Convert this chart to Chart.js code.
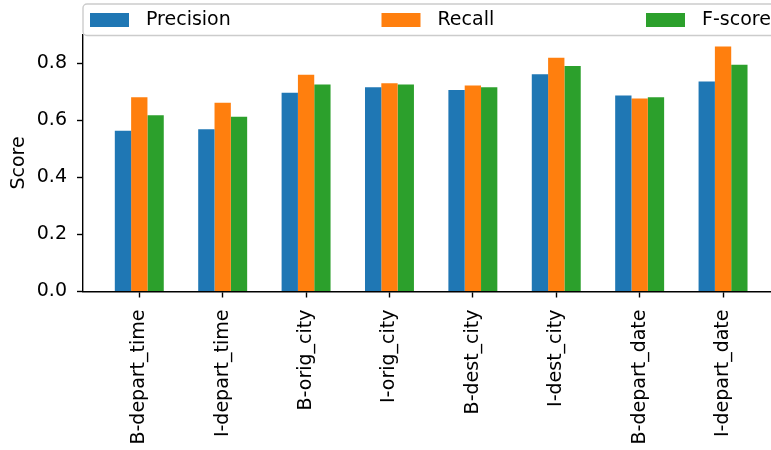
<!DOCTYPE html>
<html>
<head>
<meta charset="utf-8">
<script src="https://cdn.jsdelivr.net/npm/chart.js@4/dist/chart.umd.min.js"></script>
<style>
  html, body { margin: 0; padding: 0; background: #fff; overflow: hidden; }
  canvas { display: block; }
</style>
</head>
<body>
<canvas id="c" width="771" height="450"></canvas>
<script>
// Per-tag evaluation scores
const categories = ['B-depart_time', 'I-depart_time', 'B-orig_city', 'I-orig_city',
                    'B-dest_city', 'I-dest_city', 'B-depart_date', 'I-depart_date'];
const precision = [0.563, 0.568, 0.696, 0.715, 0.706, 0.761, 0.686, 0.735];
const recall    = [0.680, 0.661, 0.759, 0.729, 0.721, 0.819, 0.676, 0.858];
const fscore    = [0.617, 0.612, 0.725, 0.725, 0.715, 0.790, 0.680, 0.794];
const seriesNames = ['Precision', 'Recall', 'F-score'];
const yTicks = [0.0, 0.2, 0.4, 0.6, 0.8];
const yAxisTitle = 'Score';

const colors = ['#1f77b4', '#ff7f0e', '#2ca02c'];
const FONT = 'DejaVu Sans';
const FONT_SIZE = 19;

const toPoints = arr => arr.map((v, i) => ({ x: i, y: v }));

// Legend strip across the top of the axes (frame partly runs off the right edge)
const topLegend = {
  id: 'topLegend',
  afterDraw(chart) {
    const ctx = chart.ctx;
    const area = chart.chartArea;
    const x0 = area.left, y0 = 4, w = 760, h = 31.5, r = 4;
    ctx.save();
    ctx.beginPath();
    ctx.moveTo(x0 + r, y0);
    ctx.lineTo(x0 + w - r, y0);
    ctx.arcTo(x0 + w, y0, x0 + w, y0 + r, r);
    ctx.lineTo(x0 + w, y0 + h - r);
    ctx.arcTo(x0 + w, y0 + h, x0 + w - r, y0 + h, r);
    ctx.lineTo(x0 + r, y0 + h);
    ctx.arcTo(x0, y0 + h, x0, y0 + h - r, r);
    ctx.lineTo(x0, y0 + r);
    ctx.arcTo(x0, y0, x0 + r, y0, r);
    ctx.closePath();
    ctx.fillStyle = 'rgba(255,255,255,0.8)';
    ctx.fill();
    ctx.lineWidth = 1.4;
    ctx.strokeStyle = '#cccccc';
    ctx.stroke();

    const offsets = [7, 298.5, 563];
    ctx.font = FONT_SIZE + 'px "' + FONT + '"';
    ctx.textBaseline = 'middle';
    ctx.textAlign = 'left';
    chart.data.datasets.forEach((ds, i) => {
      const px = x0 + offsets[i];
      ctx.fillStyle = ds.backgroundColor;
      ctx.fillRect(px, 13, 39, 14);
      ctx.fillStyle = '#000';
      ctx.fillText(ds.label, px + 56, 20.5);
    });
    ctx.restore();
  }
};

new Chart(document.getElementById('c'), {
  type: 'bar',
  data: {
    datasets: [precision, recall, fscore].map((vals, i) => ({
      label: seriesNames[i],
      data: toPoints(vals),
      backgroundColor: colors[i],
      borderWidth: 0,
      categoryPercentage: 0.587,
      barPercentage: 1.0
    }))
  },
  options: {
    responsive: false,
    animation: false,
    events: [],
    layout: { padding: { top: 34.5, left: 0, right: 0, bottom: 0 } },
    plugins: {
      legend: { display: false },
      tooltip: { enabled: false }
    },
    scales: {
      x: {
        type: 'linear',
        offset: false,
        min: -0.675,
        max: 7.575,
        afterFit(scale) { scale.height = 158.5; },
        afterBuildTicks(scale) {
          scale.ticks = categories.map((_, i) => ({ value: i }));
        },
        grid: {
          display: true,
          offset: false,
          drawOnChartArea: false,
          drawTicks: true,
          tickLength: 6,
          tickWidth: 1.4,
          tickColor: '#000'
        },
        border: { display: true, color: '#000', width: 1.4 },
        ticks: {
          autoSkip: false,
          minRotation: 90,
          maxRotation: 90,
          padding: 12,
          color: '#000',
          font: { family: FONT, size: FONT_SIZE },
          callback: v => categories[v]
        }
      },
      y: {
        min: 0,
        max: 0.9,
        afterFit(scale) { scale.width = 83; },
        afterBuildTicks(scale) {
          scale.ticks = yTicks.map(v => ({ value: v }));
        },
        grid: {
          display: true,
          drawOnChartArea: false,
          drawTicks: true,
          tickLength: 6,
          tickWidth: 1.4,
          tickColor: '#000'
        },
        border: { display: true, color: '#000', width: 1.4 },
        ticks: {
          padding: 10,
          color: '#000',
          font: { family: FONT, size: FONT_SIZE },
          callback: v => Number(v).toFixed(1)
        },
        title: {
          display: true,
          text: yAxisTitle,
          color: '#000',
          font: { family: FONT, size: FONT_SIZE },
          padding: { top: 8, bottom: 0 }
        }
      }
    }
  },
  plugins: [topLegend]
});
</script>
</body>
</html>
